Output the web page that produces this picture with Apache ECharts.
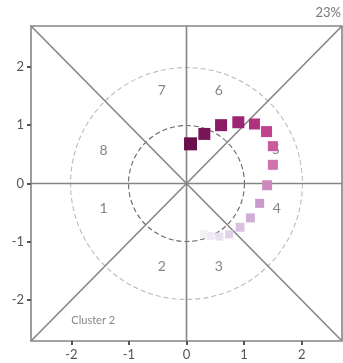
<!DOCTYPE html>
<html><head><meta charset="utf-8">
<script src="https://cdn.jsdelivr.net/npm/echarts@6/dist/echarts.min.js"></script>
<style>html,body{margin:0;padding:0;background:#fff}#c{width:343px;height:363px}</style>
</head><body><div id="c"></div>
<script>
var tickValues = [-2, -1, 0, 1, 2];
var sectorNames = ['1','2','3','4','5','6','7','8'];
var sectorX = [-1.44, -0.43, 0.56, 1.57, 1.55, 0.56, -0.43, -1.44];
var sectorY = [-0.43, -1.43, -1.43, -0.43, 0.58, 1.59, 1.59, 0.57];
var pointX = [0.07, 0.31, 0.60, 0.90, 1.18, 1.39, 1.50, 1.50, 1.40, 1.27, 1.11, 0.93, 0.74, 0.57, 0.42, 0.30];
var pointY = [0.68, 0.85, 1.00, 1.05, 1.02, 0.89, 0.64, 0.32, -0.03, -0.34, -0.59, -0.75, -0.87, -0.91, -0.90, -0.87];
var circleRadii = [1, 2];
var clusterLabel = 'Cluster 2';
var pctLabel = '23%';

var pointColors = ['#6a0f4b','#771556','#8a1c65','#9c2473','#b0317f','#c1448d','#c95a9e','#cf72ae','#cd88bd','#c99bca','#cfaed5','#d8c2e0','#e0d2e8','#e8e0ef','#efeaf3','#f3f0f6'];
var pointSizes = [13,12,12,12,11,11,10,10,10,9,9,9,8,8,8,8];

var LIM = 2.7;
var FONT = 'Lato, "DejaVu Sans", sans-serif';
var lineStyle = {color:'#858585', width:1.6};
function seg(a,b){return {type:'line', data:[a,b], symbol:'none', silent:true, lineStyle:lineStyle, z:2, animation:false};}

var chart = echarts.init(document.getElementById('c'));
chart.setOption({
  animation:false,
  grid:{left:31, right:1, top:26, bottom:22, show:true, borderColor:'#858585', borderWidth:1.6},
  xAxis:{type:'value', min:-LIM, max:LIM, splitLine:{show:false},
    axisLine:{show:false, onZero:false},
    axisTick:{show:true, customValues:tickValues, length:4, lineStyle:{color:'#555', width:2}},
    axisLabel:{customValues:tickValues, color:'#555', fontSize:13, fontFamily:FONT, margin:7}},
  yAxis:{type:'value', min:-LIM, max:LIM, splitLine:{show:false},
    axisLine:{show:false, onZero:false},
    axisTick:{show:true, customValues:tickValues, length:4, lineStyle:{color:'#555', width:2}},
    axisLabel:{customValues:tickValues, color:'#555', fontSize:13, fontFamily:FONT, margin:7}},
  graphic:[{type:'text', right:2, top:6, style:{text:pctLabel, fill:'#777', fontSize:13, fontFamily:FONT}}],
  series:[
    {type:'custom', silent:true, z:1, data:circleRadii, renderItem:function(params, api){
      var r = api.value(0);
      var c = api.coord([0,0]);
      var s = api.size([r, r]);
      var idx = params.dataIndex;
      return {type:'circle', shape:{cx:c[0], cy:c[1], r:(s[0]+s[1])/2},
        style:{fill:'none', stroke: idx===0 ? '#666' : '#bbb', lineWidth:1.1, lineDash:[5,3]}};
    }, encode:{x:0}},
    seg([-LIM,0],[LIM,0]),
    seg([0,-LIM],[0,LIM]),
    seg([-LIM,-LIM],[LIM,LIM]),
    seg([-LIM,LIM],[LIM,-LIM]),
    {type:'scatter', silent:true, z:3, symbolSize:0,
      data: sectorNames.map(function(n,i){return {value:[sectorX[i], sectorY[i]], name:n};}),
      label:{show:true, position:'inside', formatter:'{b}', color:'#666', fontSize:14, fontFamily:FONT}},
    {type:'scatter', silent:true, z:3, symbolSize:0,
      data:[{value:[-2.0,-2.35], name:clusterLabel}],
      label:{show:true, position:'right', distance:0, formatter:'{b}', color:'#666', fontSize:11, fontFamily:FONT}},
    {type:'scatter', z:4, symbol:'rect',
      data: pointX.map(function(x,i){return {value:[x, pointY[i]], symbolSize:pointSizes[i], itemStyle:{color:pointColors[i], opacity:1}};})}
  ]
});
</script></body></html>
